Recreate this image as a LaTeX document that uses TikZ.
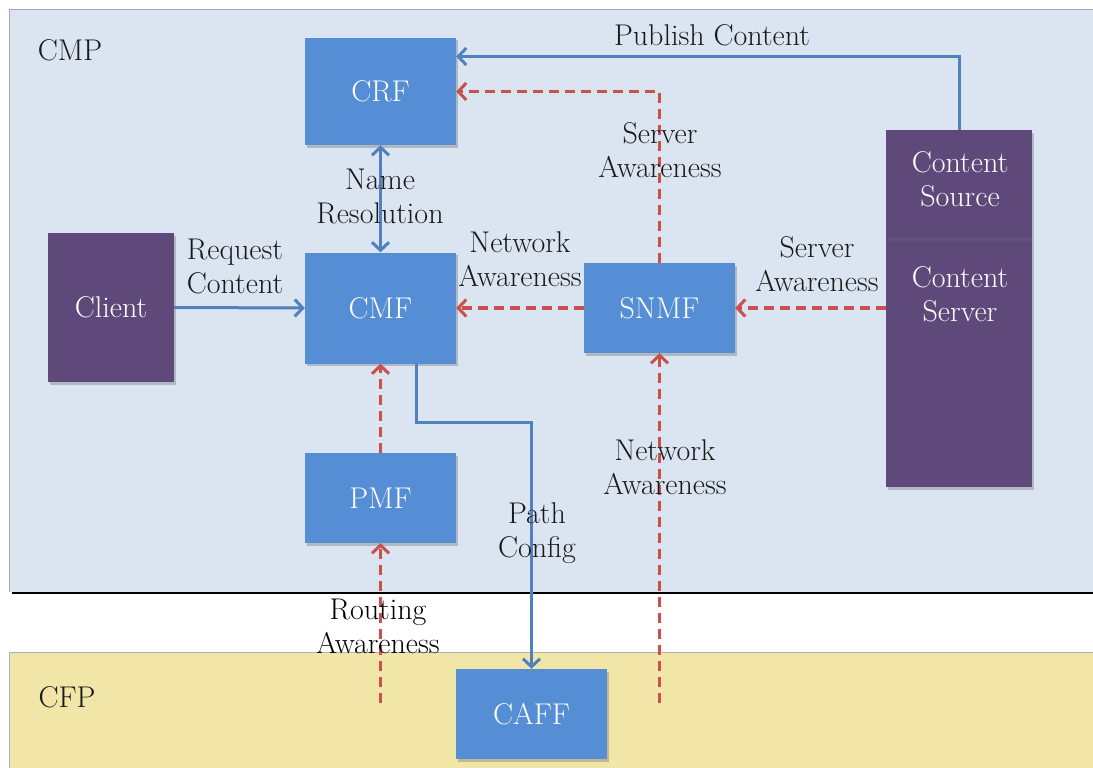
\documentclass[tikz,border=0pt]{standalone}
\usepackage{fontspec}
\usetikzlibrary{arrows.meta,shadows}
\definecolor{cmpfill}{HTML}{DBE5F1}
\definecolor{cfpfill}{HTML}{F1E6A8}
\definecolor{boxblue}{HTML}{558ED5}
\definecolor{boxpurple}{HTML}{5F497A}
\definecolor{arrred}{HTML}{C9504D}
\definecolor{arrblue}{HTML}{4F81BD}
\definecolor{txt}{HTML}{1A1A1A}
\newcommand{\lblfont}{\fontsize{30}{34}\selectfont}
\tikzset{
  shad/.style={drop shadow={shadow xshift=1.5pt,shadow yshift=-2.5pt,opacity=0.35,fill=black!60}},
  fbox/.style={rectangle, fill=boxblue, text=white, inner sep=0pt, minimum width=151pt, font=\lblfont, shad},
  pbox/.style={rectangle, fill=boxpurple, text=white, inner sep=0pt, font=\lblfont, shad},
  lbl/.style={text=txt, align=center, inner sep=0pt, font=\lblfont},
  wlbl/.style={text=white, align=center, inner sep=0pt, font=\lblfont},
  bluearr/.style={draw=arrblue, line width=3pt, -{Straight Barb[length=8pt,width=17pt,line width=3pt]}},
  bluedbl/.style={draw=arrblue, line width=3pt, {Straight Barb[length=8pt,width=17pt,line width=3pt]}-{Straight Barb[length=8pt,width=17pt,line width=3pt]}},
  redarr/.style={draw=arrred, line width=3.5pt, dash pattern=on 10pt off 6pt, -{Straight Barb[length=8pt,width=17pt,line width=3pt]}}
}
\begin{document}
\begin{tikzpicture}[x=1pt,y=-1pt]
\useasboundingbox (0,0) rectangle (1093,768);
\fill[white] (0,0) rectangle (1093,768);
% planes
\fill[cmpfill] (9,10) rectangle (1093,592);
\draw[black!35, line width=1pt] (1093,10) -- (9,10) -- (9,592);
\draw[black, line width=2pt] (12,593) -- (1093,593);
\fill[cfpfill] (9,652) rectangle (1093,768);
\draw[black!30, line width=1pt] (9,768) -- (9,652) -- (1093,652);
\node[lbl] (cmp) at (70,50) {CMP};
\node[lbl] (cfp) at (67,697) {CFP};
% boxes
\node[fbox, minimum height=107pt] (crf) at (380.5,91.5) {CRF};
\node[fbox, minimum height=111pt] (cmf) at (380.5,308) {CMF};
\node[fbox, minimum height=90pt] (pmf) at (380.5,498) {PMF};
\node[fbox, minimum height=90pt] (snmf) at (659.5,308) {SNMF};
\node[fbox, minimum height=90pt] (caff) at (531.5,714) {CAFF};
\node[pbox, minimum width=126pt, minimum height=149pt] (client) at (111,307.5) {Client};
\node[pbox, minimum width=146pt, minimum height=249pt] (cserver) at (959,362.5) {};
\node[pbox, minimum width=146pt, minimum height=108pt] (csource) at (959,184) {};
\node[wlbl] (csourcetxt) at (960,179) {Content\\Source};
\node[wlbl] (cservertxt) at (960,294) {Content\\Server};
% free ends
\coordinate (ra) at (380.5,703);
\coordinate (na) at (659.5,703);
% connectors
\draw[bluearr] (csource.north) |- ([yshift=35pt]crf.east);
\draw[redarr] (snmf.north) |- (crf.east);
\draw[bluedbl] (crf.south) -- (cmf.north);
\draw[bluearr] (client.east) -- (cmf.west);
\draw[redarr] (snmf.west) -- (cmf.east);
\draw[redarr] (cserver.west |- snmf.east) -- (snmf.east);
\draw[redarr] (pmf.north) -- (cmf.south);
\draw[bluearr] ([xshift=36pt]cmf.south) -- ++(0,59) -| (caff.north);
\draw[redarr] (ra) -- (pmf.south);
\draw[redarr] (na) -- (snmf.south);
% labels
\node[lbl] (lpub) at (712,35) {Publish Content};
\node[lbl] (lsa1) at (660,150) {Server\\Awareness};
\node[lbl] (lnr) at (380,196) {Name\\Resolution};
\node[lbl] (lrc) at (235,266) {Request\\Content};
\node[lbl] (lna1) at (520,259) {Network\\Awareness};
\node[lbl] (lsa2) at (817,264) {Server\\Awareness};
\node[lbl] (lna2) at (665,467) {Network\\Awareness};
\node[lbl] (lpc) at (537,533) {Path\\Config};
\node[lbl, text=black] (lra) at (378,626) {Routing\\Awareness};
\end{tikzpicture}
\end{document}
